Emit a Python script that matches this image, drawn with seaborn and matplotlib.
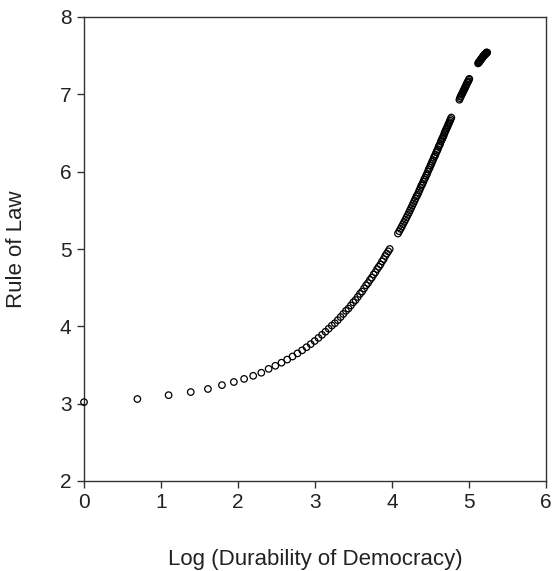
import numpy as np
import pandas as pd
import matplotlib
matplotlib.use("Agg")
import matplotlib.pyplot as plt
import seaborn as sns

# Durability of democracy (years) and predicted rule of law
years = [
    1, 2, 3, 4, 5, 6, 7, 8, 9, 10, 11, 12, 13, 14, 15, 16, 17, 18, 19, 20,
    21, 22, 23, 24, 25, 26, 27, 28, 29, 30, 31, 32, 33, 34, 35, 36, 37, 38,
    39, 40, 41, 42, 43, 44, 45, 46, 47, 48, 49, 50, 51, 52, 53,
    59, 60, 61, 62, 63, 64, 65, 66, 67, 68, 69, 70, 71, 72, 73, 74, 75, 76,
    77, 78, 79, 80, 81, 82, 83, 84, 85, 86, 87, 88, 89, 90, 91, 92, 93, 94,
    95, 96, 97, 98, 99, 100, 101, 102, 103, 104, 105, 106, 107, 108, 109,
    110, 111, 112, 113, 114, 115, 116, 117, 118,
    131, 132, 133, 134, 135, 136, 137, 138, 139, 140, 141, 142, 143, 144,
    145, 146, 147, 148, 149,
    167, 168, 169, 170, 171, 172, 173, 174, 175, 176, 177, 178, 179, 180,
    181, 182, 183, 184, 185, 186, 187, 188,
]
rule_of_law = [
    3.02, 3.06, 3.11, 3.15, 3.19, 3.24, 3.28, 3.32, 3.36, 3.40, 3.45, 3.49,
    3.53, 3.57, 3.61, 3.65, 3.69, 3.73, 3.77, 3.81, 3.85, 3.89, 3.93, 3.97,
    4.01, 4.04, 4.08, 4.12, 4.16, 4.20, 4.23, 4.27, 4.31, 4.34, 4.38, 4.42,
    4.45, 4.49, 4.53, 4.56, 4.60, 4.63, 4.67, 4.70, 4.74, 4.77, 4.80, 4.84,
    4.87, 4.91, 4.94, 4.97, 5.00,
    5.20, 5.23, 5.26, 5.29, 5.32, 5.35, 5.38, 5.41, 5.44, 5.47, 5.50, 5.53,
    5.56, 5.59, 5.62, 5.65, 5.68, 5.70, 5.73, 5.76, 5.79, 5.82, 5.84, 5.87,
    5.90, 5.92, 5.95, 5.97, 6.00, 6.03, 6.05, 6.08, 6.10, 6.13, 6.15, 6.18,
    6.20, 6.22, 6.25, 6.27, 6.29, 6.32, 6.34, 6.36, 6.39, 6.41, 6.43, 6.45,
    6.47, 6.50, 6.52, 6.54, 6.56, 6.58, 6.60, 6.62, 6.64, 6.66, 6.68, 6.70,
    6.93, 6.95, 6.97, 6.98, 7.00, 7.01, 7.03, 7.04, 7.06, 7.07, 7.09, 7.10,
    7.12, 7.13, 7.15, 7.16, 7.17, 7.19, 7.20,
    7.40, 7.41, 7.42, 7.42, 7.43, 7.44, 7.45, 7.46, 7.46, 7.47, 7.48, 7.49,
    7.49, 7.50, 7.51, 7.51, 7.52, 7.52, 7.53, 7.54, 7.54, 7.54,
]
x_ticks = [0, 1, 2, 3, 4, 5, 6]
y_ticks = [2, 3, 4, 5, 6, 7, 8]

df = pd.DataFrame({"log_dur": np.log(years), "rol": rule_of_law})

sns.set_style("ticks")
plt.rcParams["font.family"] = ["Liberation Sans", "DejaVu Sans"]

fig = plt.figure(figsize=(5.52, 5.71), dpi=100)
ax = fig.add_axes([84 / 552, 90 / 571, 462 / 552, 464 / 571])

sns.scatterplot(data=df, x="log_dur", y="rol", ax=ax, marker="o", s=22,
                facecolor="none", edgecolor="black", linewidth=0.9,
                legend=False, clip_on=False, zorder=3)

ax.set_xlim(0, 6)
ax.set_ylim(2, 8)
ax.set_xticks(x_ticks)
ax.set_yticks(y_ticks)
ax.tick_params(axis="both", direction="out", length=5, width=1,
               color="#333333", labelsize=15, labelcolor="#222222", pad=4)
for sp in ax.spines.values():
    sp.set_visible(True)
    sp.set_color("#333333")
    sp.set_linewidth(1.0)

ax.set_xlabel("Log (Durability of Democracy)", fontsize=16, color="#222222",
              labelpad=26)
ax.set_ylabel("Rule of Law", fontsize=16, color="#222222", labelpad=24)

fig.savefig("out.png", dpi=100)
